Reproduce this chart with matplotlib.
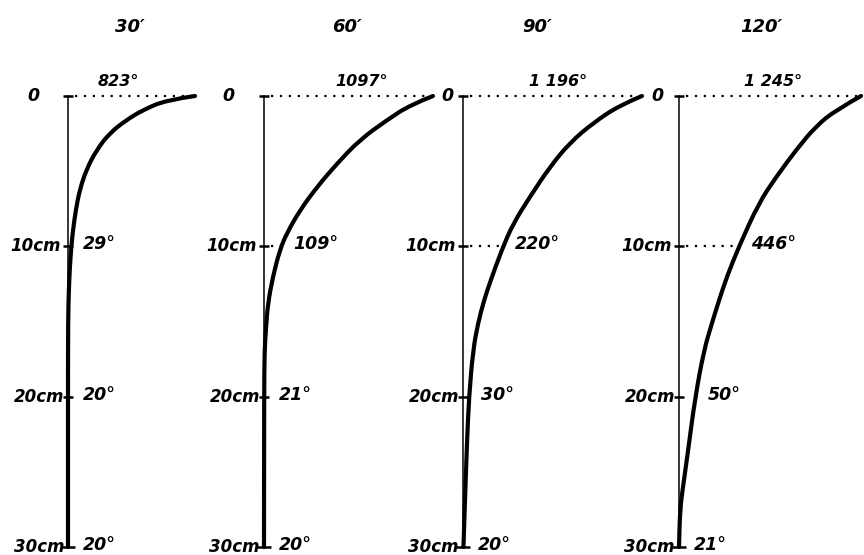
#!/usr/bin/env python

import numpy as np
from matplotlib import pyplot as plt
from matplotlib.path import Path
from matplotlib.patches import PathPatch

# heating time (minutes) for each profile
titles = ['30′', '60′', '90′', '120′']

# labelled temperatures (deg C) at 0, 10, 20, 30 cm
surface_labels = ['823°', '1097°', '1 196°', '1 245°']
temp_10cm = ['29°', '109°', '220°', '446°']
temp_20cm = ['20°', '21°', '30°', '50°']
temp_30cm = ['20°', '20°', '20°', '21°']
depth_ticks = [0, 10, 20, 30]
depth_labels = ['0', '10cm', '20cm', '30cm']

# temperature profiles (depth in cm, temperature in deg C)
depth_30 = [0, 0.27, 0.93, 1.6, 2.46, 3.6, 4.9, 6.25, 7.6, 8.9, 10.0, 11.5, 13.0, 15.0, 20.0, 30.0]
temp_30 = [823, 642, 494, 389, 284, 200, 136, 94, 69, 52, 41, 31, 25, 20.5, 20, 20]

depth_60 = [0, 0.6, 1.6, 2.9, 4.5, 6.05, 7.6, 9.1, 10.2, 12.0, 13.8, 15.4, 17.0, 20.0, 30.0]
temp_60 = [1097, 951, 804, 632, 485, 358, 249, 167, 122, 77, 45, 33, 23, 21, 20]

depth_90 = [0, 0.6, 1.8, 3.1, 4.7, 6.7, 8.5, 10.2, 12.4, 13.6, 15.1, 16.9, 20.1, 23.1, 26.9, 30.0]
temp_90 = [1196, 1052, 874, 723, 592, 460, 349, 276, 197, 158, 119, 86, 59, 46, 33, 23]

depth_120 = [0, 0.93, 2.0, 3.6, 5.4, 7.1, 10.0, 12.0, 13.6, 15.1, 16.9, 20.1, 23.6, 26.0, 27.5, 30.0]
temp_120 = [1245, 1077, 942, 807, 673, 558, 424, 343, 289, 242, 188, 128, 81, 47, 27, 20]

profiles = [(depth_30, temp_30), (depth_60, temp_60), (depth_90, temp_90), (depth_120, temp_120)]

W, H, DPI = 864, 555, 100
axis_px = [68, 264, 463, 679]          # pixel column of each depth axis
px_per_deg = [0.1582, 0.1569, 0.1522, 0.1486]
top_px, bottom_px = 96, 547            # rows of 0 cm and 30 cm
title_dx = [62, 83, 74, 82]
surf_dx = [50, 98, 95, 94]
zero_dx = [-28, -29, -10, -16]

FONT = dict(family='DejaVu Sans', weight='bold', style='oblique')
PT = 72.0 / DPI


def smooth_path(x, y):
    '''Quadratic B-spline style path through the read points.'''
    pts = np.column_stack([x, y]).astype(float)
    verts = [pts[0]]
    codes = [Path.MOVETO]
    for k in range(1, len(pts) - 1):
        mid = (pts[k] + pts[k + 1]) / 2
        verts += [pts[k], mid]
        codes += [Path.CURVE3, Path.CURVE3]
    verts.append(pts[-1])
    codes.append(Path.LINETO)
    return Path(verts, codes)


def main():
    fig = plt.figure(figsize=(W / DPI, H / DPI), dpi=DPI)
    base = 20.0

    for i, (depth, temp) in enumerate(profiles):
        s = px_per_deg[i]
        left, right = 70, 200
        ax = fig.add_axes([(axis_px[i] - left) / W, (H - bottom_px) / H,
                           (left + right) / W, (bottom_px - top_px) / H])
        ax.set_xlim(base - left / s, base + right / s)
        ax.set_ylim(30, 0)
        ax.axis('off')

        def dx(px):
            return px / s

        # depth axis with ticks
        ax.plot([base, base], [0, 30], color='black', lw=1.1, clip_on=False)
        for d in depth_ticks:
            half = 7 if d == 30 else 5
            ax.plot([base - dx(half), base + dx(half)], [d, d], color='black',
                    lw=1.8, clip_on=False, solid_capstyle='butt')

        # dotted surface line and 10 cm guide
        ax.plot([base + dx(7), temp[0]], [0, 0], color='black', lw=1.6,
                ls=(0, (1, 3)), clip_on=False)
        t10 = np.interp(10, depth, temp)
        if (t10 - base) * s > 10:
            ax.plot([base + dx(7), t10], [10, 10], color='black', lw=1.6,
                    ls=(0, (1, 3)), clip_on=False)

        # temperature profile
        patch = PathPatch(smooth_path(temp, depth), facecolor='none',
                          edgecolor='black', lw=3.0, clip_on=False,
                          capstyle='round', joinstyle='round')
        ax.add_patch(patch)

        def put(text, x, d, ox, oy, ha, size):
            ax.annotate(text, xy=(x, d), xytext=(ox * PT, oy * PT),
                        textcoords='offset points', ha=ha, va='center',
                        fontsize=size, **FONT)

        put(titles[i], base, 0, title_dx[i], 69, 'center', 13)
        put(surface_labels[i], base, 0, surf_dx[i], 15, 'center', 11.5)
        put(depth_labels[0], base, 0, zero_dx[i], 0, 'right', 12.5)
        for d, lab in zip(depth_ticks[1:], depth_labels[1:]):
            put(lab, base, d, -7 if d == 10 else -4, 0, 'right', 12)

        for d, labs in ((10, temp_10cm), (20, temp_20cm), (30, temp_30cm)):
            t = np.interp(d, depth, temp)
            off = max((t - base) * s + 12, 15)
            put(labs[i], base, d, off, 2, 'left', 12.5)

    fig.savefig('out.png', dpi=DPI)
    plt.close(fig)


if __name__ == '__main__':
    main()
